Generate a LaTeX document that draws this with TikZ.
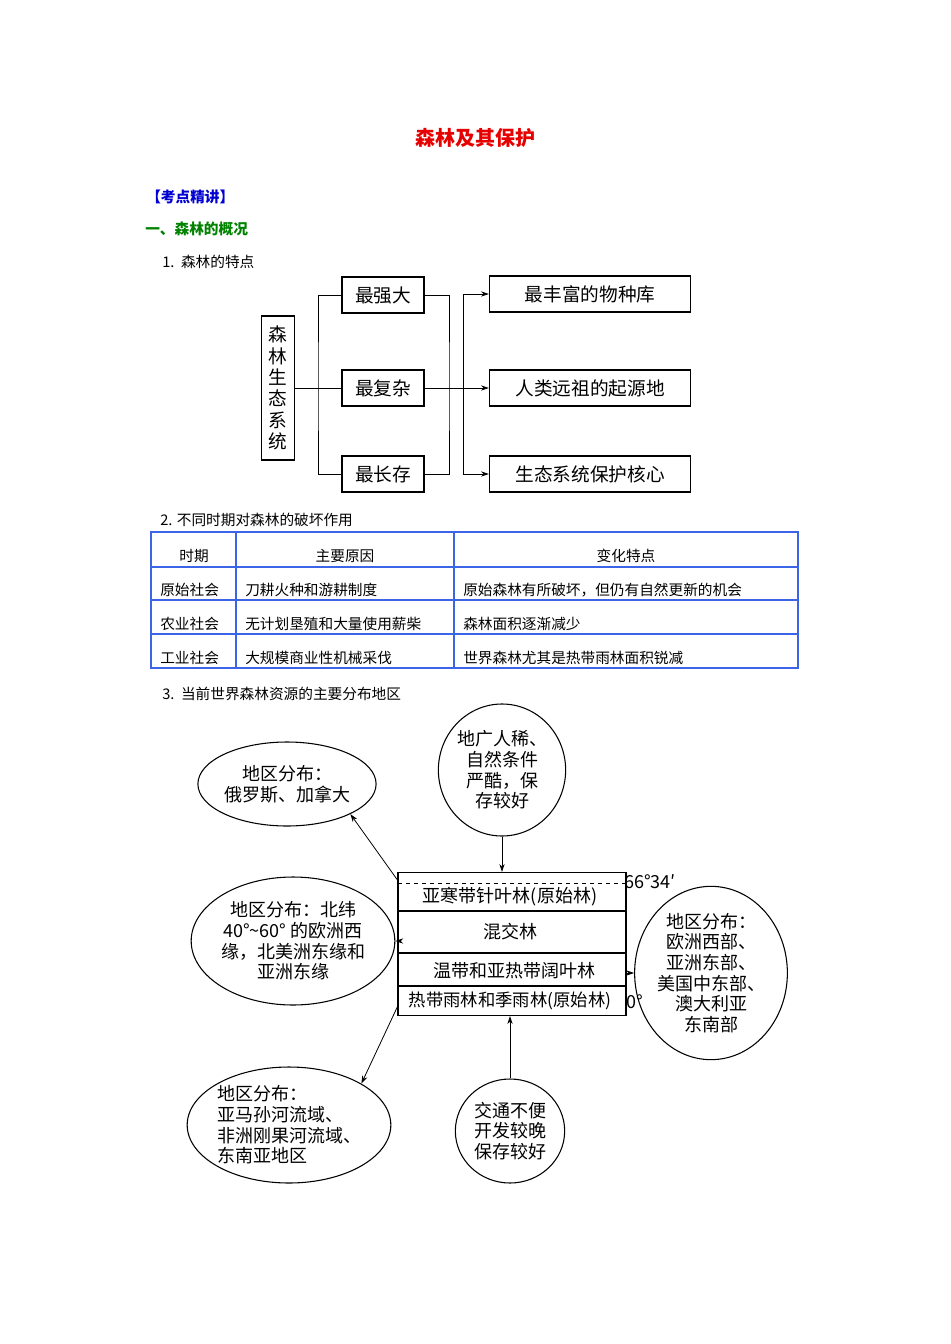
\documentclass[tikz,border=0pt]{standalone}
\usepackage{fontspec}
\setmainfont{Noto Sans CJK SC}
\usetikzlibrary{shapes.geometric,arrows.meta}
\definecolor{tblue}{RGB}{60,100,230}
\definecolor{ttred}{RGB}{230,0,0}
\definecolor{tgreen}{RGB}{0,130,0}
\definecolor{kblue}{RGB}{0,0,210}
\tikzset{
  px/.style={x=0.75pt,y=-0.75pt},
  bx/.style={draw,line width=0.9pt,inner sep=0pt,font=\fontsize{14}{16}\selectfont,align=center},
  el/.style={draw,ellipse,line width=0.8pt,inner sep=0pt,font=\fontsize{13.5}{15.5}\selectfont,align=center},
  arr/.style={-{Stealth[length=6pt,width=4pt]},line width=0.6pt},
  tb/.style={font=\fontsize{11}{13}\selectfont,anchor=base west,inner sep=0pt},
  tl/.style={tblue,line width=2pt}
}
\begin{document}
\begin{tikzpicture}[px]
\useasboundingbox (0,0) rectangle (950,1344);
\node[text=ttred,font=\fontsize{15}{17}\selectfont\bfseries] (title) at (475,138) {森林及其保护};
\node[text=kblue,font=\fontsize{11}{13}\selectfont\bfseries,anchor=west,inner sep=0pt] (kd) at (146,197) {【考点精讲】};
\node[text=tgreen,font=\fontsize{11}{13}\selectfont\bfseries,anchor=west,inner sep=0pt] (h1) at (145,229) {一、森林的概况};
\node[font=\fontsize{11}{13}\selectfont,anchor=west,inner sep=0pt] (s1) at (162,262) {1.\ \ 森林的特点};
% diagram 1
\node[bx,minimum width=24.75pt,minimum height=108pt] (L) at (278,388) {森\\林\\生\\态\\系\\统};
\node[bx,minimum width=61.5pt,minimum height=27pt] (M1) at (383,295) {最强大};
\node[bx,minimum width=61.5pt,minimum height=27pt] (M2) at (383,388) {最复杂};
\node[bx,minimum width=61.5pt,minimum height=27pt] (M3) at (383,474) {最长存};
\node[bx,minimum width=150.75pt,minimum height=27pt] (R1) at (590,294) {最丰富的物种库};
\node[bx,minimum width=150.75pt,minimum height=27pt] (R2) at (590,388) {人类远祖的起源地};
\node[bx,minimum width=150.75pt,minimum height=27pt] (R3) at (590,474) {生态系统保护核心};
\coordinate (b1) at (318,388);
\coordinate (b2) at (449,388);
\coordinate (b3) at (463,388);
\draw[line width=0.6pt] (L.east) -- (M2.west);
\draw[line width=0.6pt] (M1.west) -| (b1) |- (M3.west);
\draw[line width=0.6pt] (M1.east) -| (b2) |- (M3.east);
\draw[arr] (M2.east) -- (R2.west);
\draw[arr] (b3) |- (R1.west);
\draw[arr] (b3) |- (R3.west);
% table
\node[font=\fontsize{11}{13}\selectfont,anchor=west,inner sep=0pt] (s2) at (160,520) {2. 不同时期对森林的破坏作用};
\draw[tl] (151,532) rectangle (798,668);
\draw[tl] (151,567) -- (798,567) (151,600) -- (798,600) (151,634) -- (798,634);
\draw[tl] (236,532) -- (236,668) (454,532) -- (454,668);
\node[tb,anchor=base] (t00) at (194,561) {时期};
\node[tb,anchor=base] (t01) at (345,561) {主要原因};
\node[tb,anchor=base] (t02) at (626,561) {变化特点};
\node[tb] (t10) at (160,595) {原始社会};
\node[tb] (t11) at (245,595) {刀耕火种和游耕制度};
\node[tb] (t12) at (463,595) {原始森林有所破坏，但仍有自然更新的机会};
\node[tb] (t20) at (160,629) {农业社会};
\node[tb] (t21) at (245,629) {无计划垦殖和大量使用薪柴};
\node[tb] (t22) at (463,629) {森林面积逐渐减少};
\node[tb] (t30) at (160,663) {工业社会};
\node[tb] (t31) at (245,663) {大规模商业性机械采伐};
\node[tb] (t32) at (463,663) {世界森林尤其是热带雨林面积锐减};
\node[font=\fontsize{11}{13}\selectfont,anchor=west,inner sep=0pt] (s3) at (162,694) {3.\ \ 当前世界森林资源的主要分布地区};
% diagram 2
\node[draw,line width=0.9pt,minimum width=171pt,minimum height=107.25pt,inner sep=0pt] (B) at (512,944) {};
\draw[dashed,line width=0.5pt] (398,883) -- (626,883);
\draw[line width=0.8pt] (398,911) -- (626,911) (398,953) -- (626,953) (398,986) -- (626,986);
\node[font=\fontsize{13.5}{15}\selectfont,inner sep=0pt] (r1) at (510,897) {亚寒带针叶林(原始林)};
\node[font=\fontsize{13.5}{15}\selectfont,inner sep=0pt] (r2) at (510,932) {混交林};
\node[font=\fontsize{13.5}{15}\selectfont,inner sep=0pt] (r3) at (514,971) {温带和亚热带阔叶林};
\node[font=\fontsize{13}{15}\selectfont,inner sep=0pt] (r4) at (510,1001) {热带雨林和季雨林(原始林)};
\node[font=\fontsize{13.5}{15}\selectfont,anchor=west,inner sep=0pt] (lat1) at (624,882) {66°34′};
\node[font=\fontsize{13.5}{15}\selectfont,anchor=west,inner sep=0pt] (lat2) at (626,1002) {0°};
\node[el,minimum width=117pt,minimum height=63pt] (E1) at (287,784) {地区分布：\\俄罗斯、加拿大};
\node[el,minimum width=90pt,minimum height=99pt] (C1) at (502,770) {地广人稀、\\自然条件\\严酷，保\\存较好};
\node[el,minimum width=148pt,minimum height=96pt] (E2) at (293,941) {地区分布：北纬\\40°\textasciitilde60° 的欧洲西\\缘，北美洲东缘和\\亚洲东缘};
\node[el,minimum width=88pt,minimum height=130pt] (E3) at (711,973) {地区分布：\\欧洲西部、\\亚洲东部、\\美国中东部、\\澳大利亚\\东南部};
\node[el,minimum width=142pt,minimum height=87pt,align=left] (E4) at (289,1125) {地区分布：\\亚马孙河流域、\\非洲刚果河流域、\\东南亚地区};
\node[el,minimum width=82pt,minimum height=78pt] (C2) at (510,1131) {交通不便\\开发较晚\\保存较好};
\draw[arr] (C1.south) -- (C1.south |- B.north);
\draw[arr] (C2.north) -- (C2.north |- B.south);
\draw[arr] ([yshift=-6pt]B.north west) -- (E1.south east);
\draw[arr] (B.west |- E2.east) -- (E2.east);
\draw[arr] (B.east |- E3.west) -- (E3.west);
\draw[arr] ([yshift=7pt]B.south west) -- (E4.north east);
\end{tikzpicture}
\end{document}
